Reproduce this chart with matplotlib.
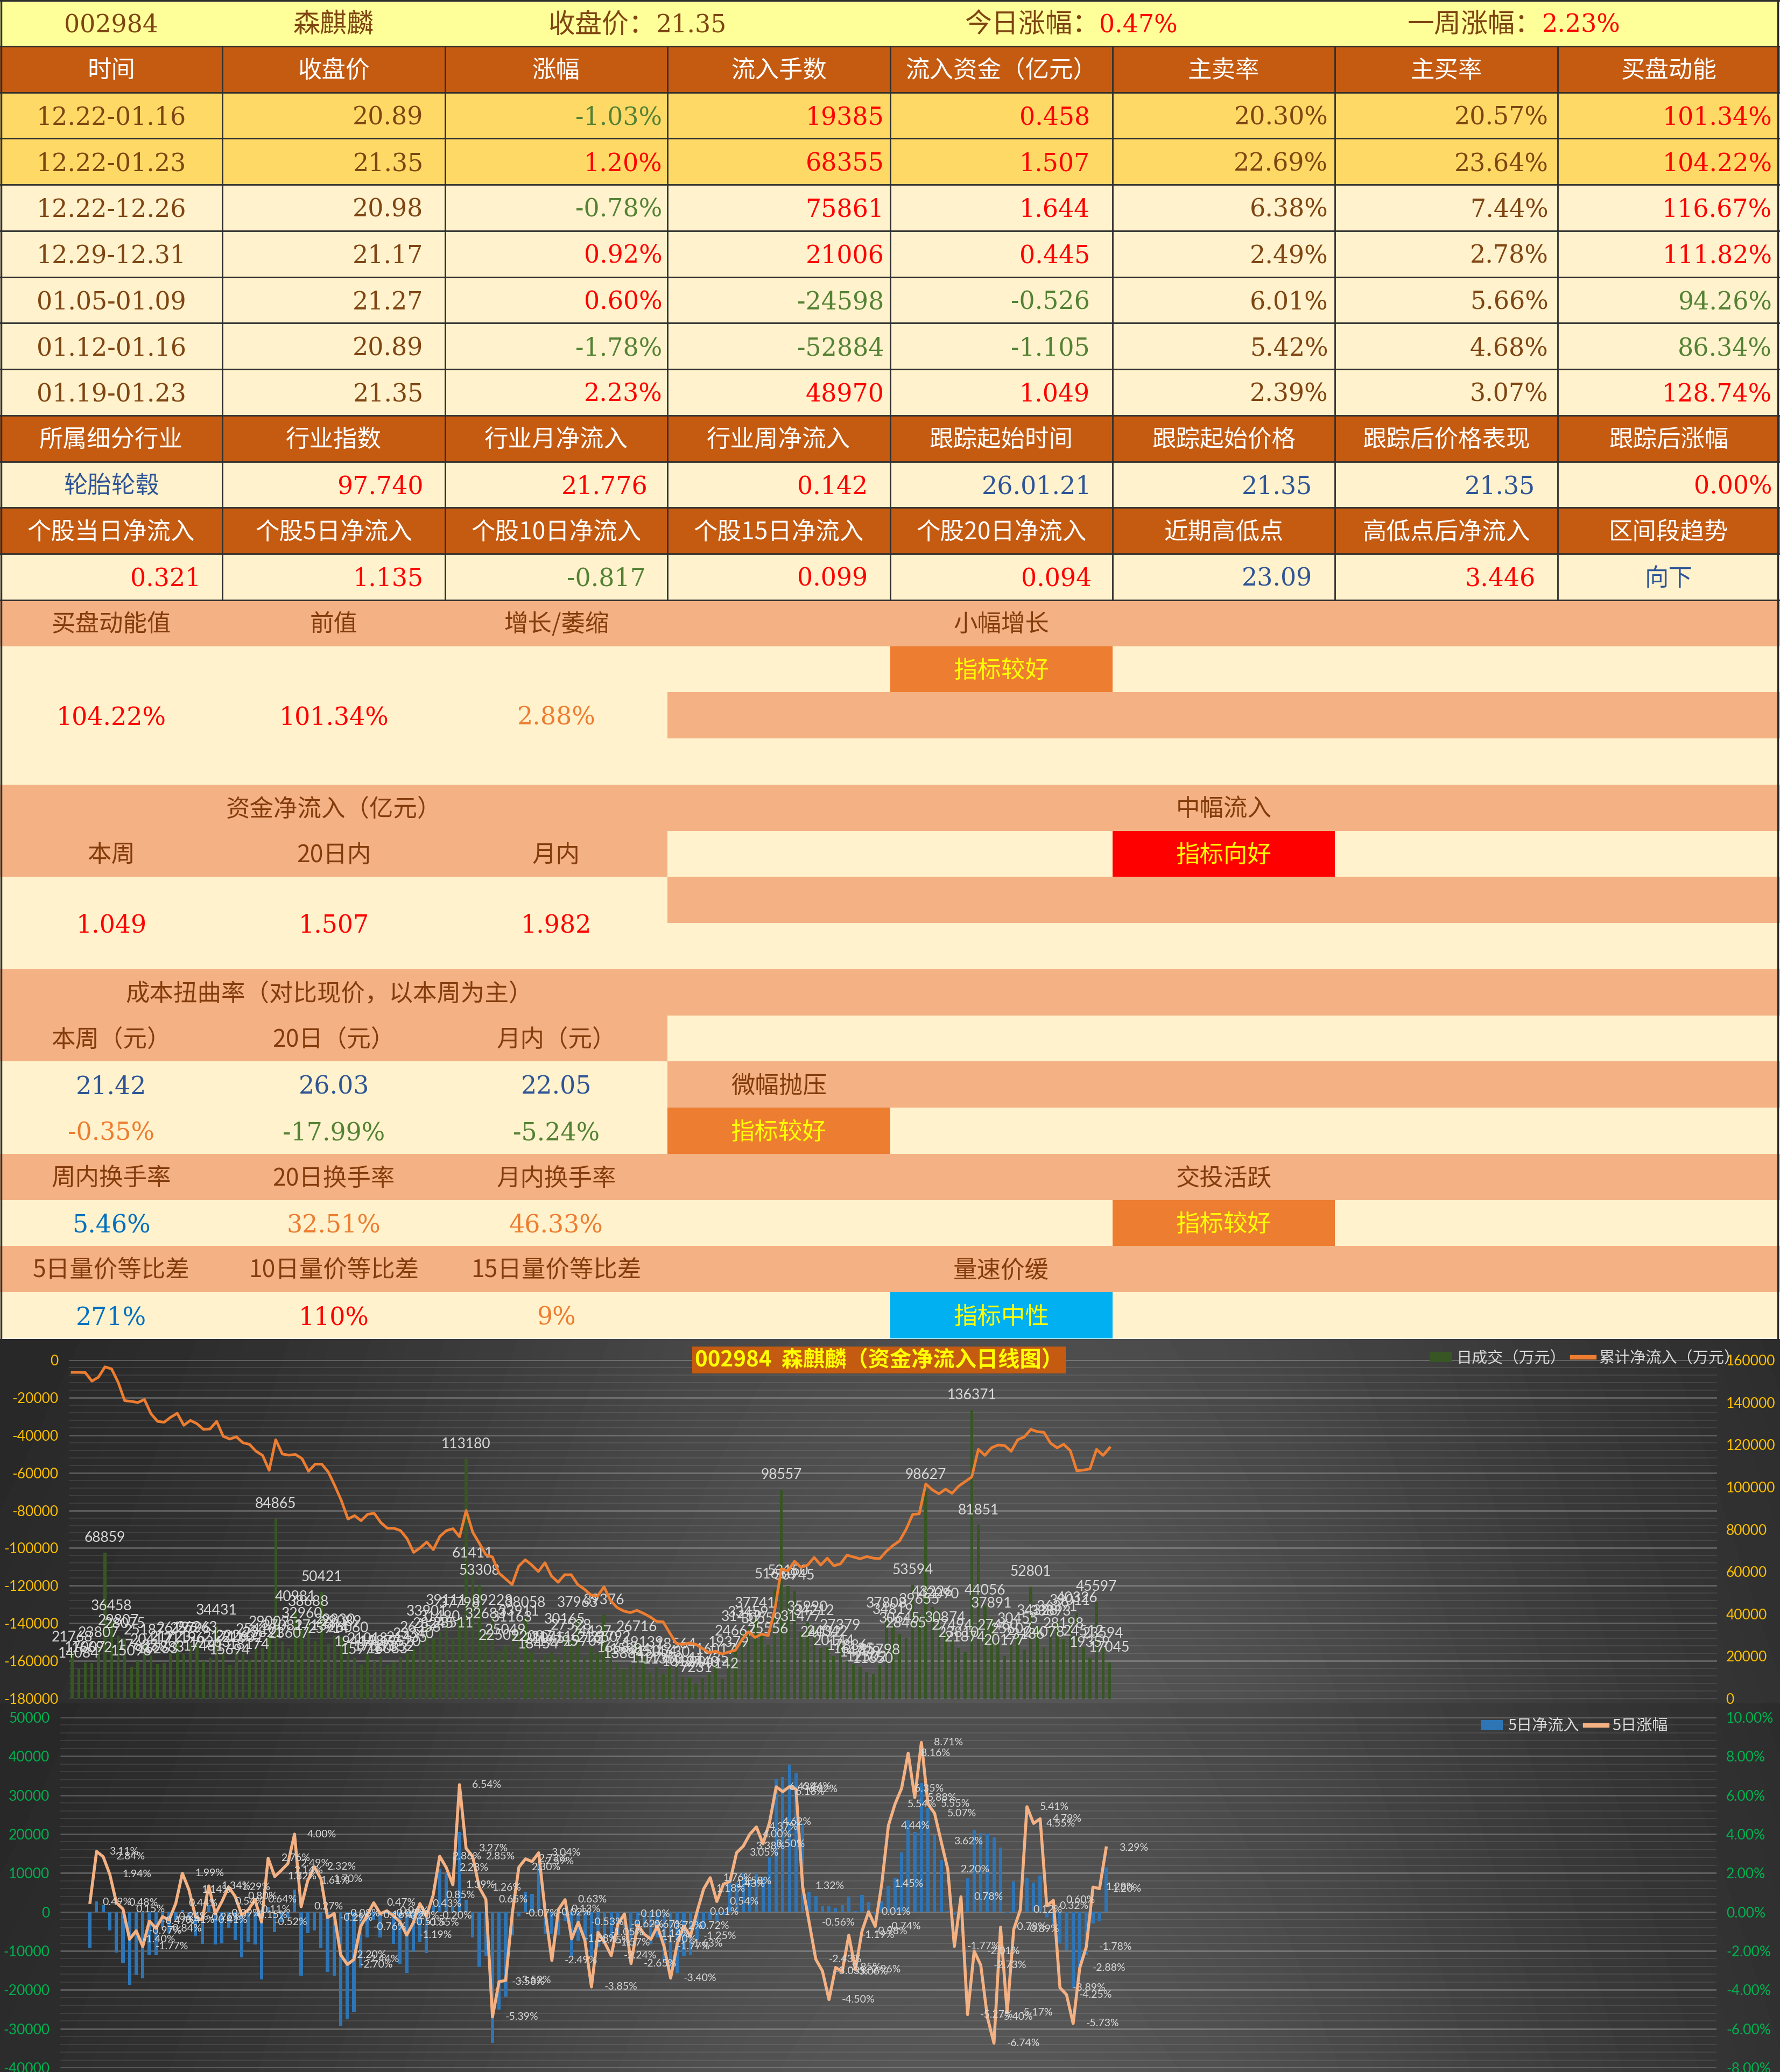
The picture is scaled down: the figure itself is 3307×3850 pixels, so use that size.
import numpy as np
import matplotlib
matplotlib.use("Agg")
import matplotlib.pyplot as plt
from matplotlib.patches import Rectangle, Patch
from matplotlib.lines import Line2D

# ======================= DATA =======================
stock_code = "002984"
stock_name = "森麒麟"
close_price = "21.35"
today_change = "0.47%"
week_change = "2.23%"

header1 = ["时间", "收盘价", "涨幅", "流入手数", "流入资金（亿元）", "主卖率", "主买率", "买盘动能"]
periods = ["12.22-01.16", "12.22-01.23", "12.22-12.26", "12.29-12.31", "01.05-01.09", "01.12-01.16", "01.19-01.23"]
close_prices = ["20.89", "21.35", "20.98", "21.17", "21.27", "20.89", "21.35"]
changes = ["-1.03%", "1.20%", "-0.78%", "0.92%", "0.60%", "-1.78%", "2.23%"]
inflow_lots = ["19385", "68355", "75861", "21006", "-24598", "-52884", "48970"]
inflow_funds = ["0.458", "1.507", "1.644", "0.445", "-0.526", "-1.105", "1.049"]
sell_rates = ["20.30%", "22.69%", "6.38%", "2.49%", "6.01%", "5.42%", "2.39%"]
buy_rates = ["20.57%", "23.64%", "7.44%", "2.78%", "5.66%", "4.68%", "3.07%"]
buy_power = ["101.34%", "104.22%", "116.67%", "111.82%", "94.26%", "86.34%", "128.74%"]

header2 = ["所属细分行业", "行业指数", "行业月净流入", "行业周净流入", "跟踪起始时间", "跟踪起始价格", "跟踪后价格表现", "跟踪后涨幅"]
industry_row = ["轮胎轮毂", "97.740", "21.776", "0.142", "26.01.21", "21.35", "21.35", "0.00%"]
header3 = ["个股当日净流入", "个股5日净流入", "个股10日净流入", "个股15日净流入", "个股20日净流入", "近期高低点", "高低点后净流入", "区间段趋势"]
stock_flow_row = ["0.321", "1.135", "-0.817", "0.099", "0.094", "23.09", "3.446", "向下"]

bp_labels = ["买盘动能值", "前值", "增长/萎缩"]
bp_values = ["104.22%", "101.34%", "2.88%"]
bp_status, bp_signal = "小幅增长", "指标较好"
flow_title = "资金净流入（亿元）"
flow_labels = ["本周", "20日内", "月内"]
flow_values = ["1.049", "1.507", "1.982"]
flow_status, flow_signal = "中幅流入", "指标向好"
cost_title = "成本扭曲率（对比现价，以本周为主）"
cost_labels = ["本周（元）", "20日（元）", "月内（元）"]
cost_prices = ["21.42", "26.03", "22.05"]
cost_devs = ["-0.35%", "-17.99%", "-5.24%"]
cost_status, cost_signal = "微幅抛压", "指标较好"
turn_labels = ["周内换手率", "20日换手率", "月内换手率"]
turn_values = ["5.46%", "32.51%", "46.33%"]
turn_status, turn_signal = "交投活跃", "指标较好"
qp_labels = ["5日量价等比差", "10日量价等比差", "15日量价等比差"]
qp_values = ["271%", "110%", "9%"]
qp_status, qp_signal = "量速价缓", "指标中性"

chart_title = "（资金净流入日线图）"
legend_top = ["日成交（万元）", "累计净流入（万元）"]
legend_bottom = ["5日净流入", "5日涨幅"]

daily_volume = [
    21768, 14084, 17007, 16692, 23807, 68859, 36458, 29807, 28075, 15096,
    17685, 25187, 20417, 16263, 16883, 21723, 26196, 21196, 25796, 26263,
    17481, 19263, 34431, 21711, 15694, 22262, 21602, 18174, 25410, 23821,
    29002, 84865, 27081, 23607, 40981, 32960, 38688, 27134, 50421, 25914,
    29830, 29089, 26060, 19414, 15971, 21018, 17563, 19877, 16083, 17352,
    19520, 21435, 23340, 26358, 33901, 28245, 31490, 39111, 28511, 37798,
    113180, 61411, 53308, 32683, 39228, 22509, 25049, 31163, 33911, 38058,
    22097, 18454, 21045, 21711, 19795, 30165, 27528, 37963, 19704, 24427,
    21650, 39376, 21792, 16683, 13884, 15884, 26716, 19139, 11976, 15054,
    11350, 14630, 18564, 10124, 9890, 7231, 9740, 11735, 16017, 9142,
    19379, 24667, 31459, 33459, 37741, 30559, 25556, 51630, 98557, 53150,
    50945, 31477, 35990, 34212, 24032, 24342, 20144, 27379, 17836, 16185,
    14779, 12502, 11650, 15798, 37808, 34819, 30645, 28465, 53594, 39655,
    98627, 43226, 42090, 30874, 27494, 23810, 21874, 136371, 81851, 44056,
    37891, 27460, 20177, 25607, 30455, 23186, 52801, 34328, 24078, 33893,
    36391, 28198, 39011, 40326, 24512, 19359, 45597, 23594, 17045]

cum_net_inflow = [
    -6580, -6580, -6700, -11230, -9150, -3650, -4750, -11840, -21620, -22000,
    -22600, -21010, -28590, -32630, -33120, -30430, -28350, -34710, -32140, -33850,
    -36910, -36660, -32630, -40580, -42040, -40820, -44000, -44860, -48520, -50720,
    -58670, -42410, -49990, -50600, -50230, -52430, -59160, -55370, -55370, -59530,
    -66860, -74810, -84590, -82760, -85450, -82020, -81530, -86430, -89480, -89480,
    -90700, -94980, -102320, -99870, -96810, -100850, -93760, -90700, -89720, -94000,
    -80060, -91560, -97430, -103540, -104760, -113320, -116380, -119430, -109650, -106230,
    -109040, -112470, -107820, -114910, -118210, -114180, -114180, -119430, -121880, -124940,
    -125550, -120660, -127990, -131660, -133490, -134350, -133130, -134720, -136550, -139000,
    -139240, -145110, -150730, -151220, -150490, -151220, -153420, -155630, -154890, -156360,
    -155260, -154280, -148780, -144500, -147560, -145720, -146580, -132880, -111120, -112100,
    -107080, -110270, -109040, -105010, -109040, -105370, -109410, -108430, -103780, -104760,
    -105740, -104520, -105370, -105620, -101710, -98650, -96200, -90090, -82140, -81780,
    -65880, -69060, -71140, -68690, -70890, -67100, -64660, -62210, -47540, -50720,
    -46690, -45220, -45460, -48520, -42410, -40940, -36910, -38130, -38490, -44240,
    -46690, -44850, -48150, -58910, -58550, -57930, -47540, -50720, -46690]

net_inflow_5d = [
    -9260, 2740, 1700, -4810, -10470, -13090, -18690, -16250, -16990, -11080,
    -11080, -4000, -5500, -2000, 500, -1500, -6200, -8200, 1800, -8300,
    -8000, -4200, -7300, -11700, -7700, -8300, -17300, 1400, -5100, -2500,
    -1500, 5800, -16300, -5500, -4800, -9300, -15400, -16300, -29200, -27600,
    -25600, -14300, -6500, -2000, -6500, -500, -8200, -13300, -15700, -10200,
    -7600, -10500, 1500, 11100, 9900, 1500, 20600, 3200, -6500, -14100,
    -11400, -33600, -25100, -21700, -5900, -1200, 5200, 4600, 12400, -5600,
    -5600, -5800, -2300, -11400, -7400, -7400, -11400, -9000, -6500, -6500,
    -5600, -4100, -7100, -3500, -4100, -8400, -6500, -12600, -14100, -15700,
    -11400, -11100, -7100, -4400, -2000, -2300, -700, 8100, 7600, 9900,
    8100, 9900, 9000, 14200, 34300, 34600, 37900, 35600, 22700, 5100,
    4100, 1500, 1500, 1100, 1700, 4000, 200, 4400, 2600, -400,
    2900, 6600, 8700, 15300, 23600, 20500, 33100, 26700, 19700, 13400,
    200, -700, 200, 8700, 21000, 20300, 20100, 19200, 16600, -300,
    7800, 5700, 8600, 7500, 9300, -1400, -3500, -8000, -9900, -19600,
    -14400, -11100, -2900, -2400, 11400]

change_5d = [
    0.49, 3.11, 2.84, 1.94, 0.48, 0.15, -1.40, -0.97, -1.77, -0.47,
    -0.84, -0.24, -0.41, 0.44, 1.99, 1.14, -0.26, -0.41, 1.34, -0.09,
    0.54, 1.29, 0.80, -0.15, 0.11, 0.64, -0.52, 2.76, 1.82, 2.14,
    2.49, 4.00, 0.27, 1.61, 2.32, 1.70, -0.29, -0.08, -2.20, -2.70,
    -2.44, -0.76, -0.16, 0.47, -0.09, 0.06, -0.20, -0.51, -1.19, -0.55,
    0.43, -0.20, 0.85, 2.86, 2.28, 1.39, 6.54, 3.27, 2.85, 1.26,
    0.65, -5.39, -3.58, -3.52, -0.07, 2.30, 2.73, 2.59, 3.04, -0.02,
    -2.49, 0.13, 0.63, -1.38, -0.53, -1.45, -3.85, -1.05, -1.57, -2.24,
    -0.62, -0.10, -2.65, -0.67, -1.14, -1.40, -0.72, -1.77, -3.40, -1.63,
    -0.72, -1.25, 0.01, 1.18, 1.76, 0.54, 1.43, 1.58, 3.05, 3.38,
    4.00, 4.37, 3.50, 4.62, 6.43, 6.18, 6.44, 6.32, 1.32, -0.56,
    -2.43, -3.03, -4.50, -2.85, -3.06, -1.19, -2.96, -0.98, 0.01, -0.74,
    1.45, 4.44, 5.54, 6.35, 8.16, 5.88, 8.71, 5.55, 5.07, 3.62,
    2.20, -1.77, 0.78, -5.27, -2.01, -2.73, -5.40, -6.74, -0.78, -5.17,
    -0.89, 0.12, 5.41, 4.55, 4.79, 0.32, 0.60, -3.89, -4.25, -5.73,
    -2.88, -1.78, 1.28, 1.20, 3.29]

vol_ticks = list(range(0, 160001, 20000))
cum_ticks = list(range(-180000, 1, 20000))
net5_ticks = list(range(-40000, 50001, 10000))
chg5_ticks = list(range(-8, 11, 2))

# ======================= STYLE =======================
CJK = ["Noto Sans CJK SC", "DejaVu Sans"]
NUM = ["DejaVu Serif", "Noto Sans CJK SC"]
CHART = ["Lato", "Noto Sans CJK SC", "DejaVu Sans"]
plt.rcParams["font.family"] = CHART

BROWN = "#7F4512"
RED = "#FF0000"
GREEN = "#548235"
BLUE = "#2F5597"
LBLUE = "#0070C0"
ORANGE = "#ED7D31"
YELLOW = "#FFFF00"
HDR = "#C55A11"
GOLD = "#FFD966"
CREAM = "#FFF2CC"
TITLEBG = "#FFFF99"
SALMON = "#F4B183"
SKY = "#00B0F0"
BORDER = "#2E2E2E"

W, H = 3307, 3850
NROWS = 29
TABLE_H = 2487
RH = TABLE_H / NROWS
CW = W / 8
NUM_SIZE = 33
CJK_SIZE = 32

fig = plt.figure(figsize=(W / 100, H / 100), dpi=100)
fig.patch.set_facecolor("white")
tax = fig.add_axes([0, 0, 1, 1])
tax.set_xlim(0, W)
tax.set_ylim(H, 0)
tax.axis("off")
renderer = fig.canvas.get_renderer()


def fill(r, c, color, n=1):
    tax.add_patch(Rectangle((c * CW, r * RH), CW * n, RH, facecolor=color,
                            edgecolor="none", zorder=1))


def put(x, y, s, color, size, fam, ha="center", weight="normal", k=0.35):
    px = size * 100 / 72
    return tax.text(x, y + k * px, s, color=color, fontsize=size, family=fam,
                    ha=ha, va="baseline", zorder=6, fontweight=weight)


def num(x, y, s, color, ha="center"):
    return put(x, y, s, color, NUM_SIZE, NUM, ha=ha, k=0.37)


def rc(r):
    return (r + 0.5) * RH


def sign_color(s):
    return GREEN if s.strip().startswith("-") else RED


# ---------------- top table ----------------
for c in range(8):
    fill(0, c, TITLEBG)
num(CW * 0.5, rc(0), stock_code, BROWN)
put(CW * 1.5, rc(0), stock_name, BROWN, 36, CJK)
for x0, lab, val, vcol in [(1019, "收盘价：", close_price, BROWN),
                           (1792, "今日涨幅：", today_change, RED),
                           (2615, "一周涨幅：", week_change, RED)]:
    t = put(x0, rc(0), lab, BROWN, 36, CJK, ha="left")
    bb = t.get_window_extent(renderer=renderer)
    num(bb.x1, rc(0), val, vcol, ha="left")

for r, hdr in [(1, header1), (9, header2), (11, header3)]:
    for c in range(8):
        fill(r, c, HDR)
        put(CW * (c + 0.5), rc(r), hdr[c], "white", CJK_SIZE, CJK)

pads_main = [0, 40, 10, 11, 42, 13, 17, 15]
for k in range(7):
    r = 2 + k
    bg = GOLD if k < 2 else CREAM
    for c in range(8):
        fill(r, c, bg)
    vals = [periods[k], close_prices[k], changes[k], inflow_lots[k], inflow_funds[k],
            sell_rates[k], buy_rates[k], buy_power[k]]
    bpv = float(buy_power[k].rstrip("%"))
    cols = [BROWN, BROWN, sign_color(changes[k]), sign_color(inflow_lots[k]),
            sign_color(inflow_funds[k]), BROWN, BROWN, RED if bpv >= 100 else GREEN]
    num(CW * 0.5, rc(r), vals[0], cols[0])
    for c in range(1, 8):
        num(CW * (c + 1) - pads_main[c], rc(r), vals[c], cols[c], ha="right")

for c in range(8):
    fill(10, c, CREAM)
    fill(12, c, CREAM)
pads_ind = [0, 40, 37, 41, 39, 42, 41, 15]
ind_cols = [BLUE, RED, RED, RED, BLUE, BLUE, BLUE, RED]
put(CW * 0.5, rc(10), industry_row[0], ind_cols[0], CJK_SIZE, CJK)
for c in range(1, 8):
    num(CW * (c + 1) - pads_ind[c], rc(10), industry_row[c], ind_cols[c], ha="right")
pads_flow = [40, 40, 40, 41, 39, 42, 41, 0]
flow_cols = [sign_color(v) for v in stock_flow_row[:5]] + [BLUE, RED, BLUE]
for c in range(7):
    num(CW * (c + 1) - pads_flow[c], rc(12), stock_flow_row[c], flow_cols[c], ha="right")
put(CW * 7.5, rc(12), stock_flow_row[7], flow_cols[7], CJK_SIZE, CJK)

# borders of top table
tax.plot([0, W], [1, 1], color=BORDER, lw=2.5, zorder=4)
for r in range(1, 14):
    tax.plot([0, W], [r * RH, r * RH], color=BORDER, lw=2, zorder=4)
for c in range(1, 8):
    tax.plot([c * CW, c * CW], [RH, 13 * RH], color=BORDER, lw=2, zorder=4)
tax.plot([1.5, 1.5], [0, TABLE_H], color=BORDER, lw=2.5, zorder=4)
tax.plot([W - 4, W - 4], [0, TABLE_H], color=BORDER, lw=2.5, zorder=4)

# ---------------- lower panel ----------------
S, C_, O, R_, B_ = SALMON, CREAM, ORANGE, RED, SKY
layout = [
    [S] * 8,
    [C_, C_, C_, C_, O, C_, C_, C_],
    [C_, C_, C_, S, S, S, S, S],
    [C_] * 8,
    [S] * 8,
    [S, S, S, C_, C_, R_, C_, C_],
    [C_, C_, C_, S, S, S, S, S],
    [C_] * 8,
    [S] * 8,
    [S, S, S, C_, C_, C_, C_, C_],
    [C_, C_, C_, S, S, S, S, S],
    [C_, C_, C_, O, C_, C_, C_, C_],
    [S] * 8,
    [C_, C_, C_, C_, C_, O, C_, C_],
    [S] * 8,
    [C_, C_, C_, C_, B_, C_, C_, C_],
]
for k, row in enumerate(layout):
    for c, col in enumerate(row):
        fill(13 + k, c, col)


def cx(c):
    return CW * (c + 0.5)

LBROWN = "#843C0C"
# 买盘动能
for c in range(3):
    put(cx(c), rc(13), bp_labels[c], LBROWN, CJK_SIZE, CJK)
put(cx(4), rc(13), bp_status, LBROWN, CJK_SIZE, CJK)
put(cx(4), rc(14), bp_signal, YELLOW, CJK_SIZE, CJK)
bp_cols = [RED, RED, ORANGE]
for c in range(3):
    num(cx(c), rc(15), bp_values[c], bp_cols[c])
# 资金净流入
put(cx(1), rc(17), flow_title, LBROWN, CJK_SIZE, CJK)
put(cx(5), rc(17), flow_status, LBROWN, CJK_SIZE, CJK)
for c in range(3):
    put(cx(c), rc(18), flow_labels[c], LBROWN, CJK_SIZE, CJK)
    num(cx(c), 20 * RH, flow_values[c], RED)
put(cx(5), rc(18), flow_signal, YELLOW, CJK_SIZE, CJK)
# 成本扭曲率
put(cx(1) - 8, rc(21), cost_title, LBROWN, CJK_SIZE, CJK)
cost_dev_cols = [ORANGE, GREEN, GREEN]
for c in range(3):
    put(cx(c), rc(22), cost_labels[c], LBROWN, CJK_SIZE, CJK)
    num(cx(c), rc(23), cost_prices[c], BLUE)
    num(cx(c), rc(24), cost_devs[c], cost_dev_cols[c])
put(cx(3), rc(23), cost_status, LBROWN, CJK_SIZE, CJK)
put(cx(3), rc(24), cost_signal, YELLOW, CJK_SIZE, CJK)
# 换手率
turn_cols = [LBLUE, ORANGE, ORANGE]
for c in range(3):
    put(cx(c), rc(25), turn_labels[c], LBROWN, CJK_SIZE, CJK)
    num(cx(c), rc(26), turn_values[c], turn_cols[c])
put(cx(5), rc(25), turn_status, LBROWN, CJK_SIZE, CJK)
put(cx(5), rc(26), turn_signal, YELLOW, CJK_SIZE, CJK)
# 量价等比差
qp_cols = [LBLUE, RED, ORANGE]
for c in range(3):
    put(cx(c), rc(27), qp_labels[c], LBROWN, CJK_SIZE, CJK)
    num(cx(c), rc(28), qp_values[c], qp_cols[c])
put(cx(4), rc(27), qp_status, LBROWN, CJK_SIZE, CJK)
put(cx(4), rc(28), qp_signal, YELLOW, CJK_SIZE, CJK)

# ---------------- chart backgrounds ----------------
def gradient(nr=80, nc=700):
    x = np.linspace(0, 1, nc)[None, :]
    y = np.linspace(0, 1, nr)[:, None]
    v = 0.15 + 0.19 * np.exp(-((x - 0.55) / 0.38) ** 2)
    return v * (0.90 + 0.10 * y)

top0, split, bot1 = TABLE_H + 1, 3165, H
tax.imshow(gradient(), cmap="gray", vmin=0, vmax=1, extent=[0, W, split, top0],
           aspect="auto", interpolation="bilinear", zorder=0.5)
tax.imshow(gradient(), cmap="gray", vmin=0, vmax=1, extent=[0, W, bot1, split],
           aspect="auto", interpolation="bilinear", zorder=0.5)
tax.set_xlim(0, W)
tax.set_ylim(H, 0)


def grid(ax):
    for k in range(46):
        f = k / 45
        major = (k % 5 == 0)
        ax.plot([0, 1], [f, f], transform=ax.transAxes,
                color=(1, 1, 1, 0.22 if major else 0.10),
                lw=2.2 if major else 1.3, zorder=0.6, solid_capstyle="butt")


def clean(ax, nslots):
    ax.set_xlim(-0.5, nslots - 0.5)
    ax.patch.set_visible(False)
    for s in ax.spines.values():
        s.set_visible(False)
    ax.set_xticks([])

NSLOTS = 251
days = np.arange(len(daily_volume))
days5 = np.arange(len(daily_volume) - len(net_inflow_5d), len(daily_volume))

# ---------------- top chart ----------------
axb = fig.add_axes([128 / W, 1 - 3156 / H, (3190 - 128) / W, (3156 - 2527) / H])
axl = axb.twinx()
for a in (axb, axl):
    clean(a, NSLOTS)
axb.set_ylim(0, 160000)
axl.set_ylim(-180000, 0)
axb.yaxis.tick_right()
axl.yaxis.tick_left()
axb.set_yticks(vol_ticks)
axb.set_yticklabels([str(v) for v in vol_ticks])
axl.set_yticks(cum_ticks)
axl.set_yticklabels([str(v) for v in cum_ticks])
axb.tick_params(axis="y", length=0, pad=12, labelcolor="#FFC000", labelsize=19,
                labelright=True, labelleft=False)
axl.tick_params(axis="y", length=0, pad=14, labelcolor="#FFC000", labelsize=19,
                labelleft=True, labelright=False)
grid(axb)
axb.bar(days, daily_volume, width=0.45, color="#375623", zorder=2)
for xi, v in zip(days, daily_volume):
    axb.annotate(str(v), (xi, v), xytext=(0, 11), textcoords="offset points",
                 ha="center", va="bottom", fontsize=19, color="#D9D9D9", zorder=4)
axl.plot(days, cum_net_inflow, color="#ED7D31", lw=3.6, zorder=3,
         solid_joinstyle="round")

fig.text(1633 / W, 1 - 2527 / H, f"{stock_code}  {stock_name}{chart_title}",
         ha="center", va="center", color=YELLOW, fontsize=29, family=CJK,
         fontweight="bold",
         bbox=dict(boxstyle="square,pad=0.12", facecolor=HDR, edgecolor="none"))
fig.legend([Patch(facecolor="#375623"), Line2D([0], [0], color="#ED7D31", lw=6)],
           legend_top, loc="center left", bbox_to_anchor=(2630 / W, 1 - 2524 / H),
           ncol=2, frameon=False, labelcolor="#D9D9D9", handlelength=1.4,
           handleheight=0.6, handletextpad=0.3, columnspacing=0.4,
           prop=dict(family=CJK, size=21))

# ---------------- bottom chart ----------------
bb_ = fig.add_axes([112 / W, 1 - 3842 / H, (3189 - 112) / W, (3842 - 3191) / H])
bl = bb_.twinx()
for a in (bb_, bl):
    clean(a, NSLOTS)
bb_.set_ylim(-40000, 50000)
bl.set_ylim(-8, 10)
bb_.set_yticks(net5_ticks)
bb_.set_yticklabels([str(v) for v in net5_ticks])
bl.set_yticks(chg5_ticks)
bl.set_yticklabels([f"{v:.2f}%" for v in chg5_ticks])
bb_.tick_params(axis="y", length=0, pad=14, labelcolor="#00B050", labelsize=19)
bl.tick_params(axis="y", length=0, pad=13, labelcolor="#00B050", labelsize=19)
grid(bb_)
bb_.bar(days5, net_inflow_5d, width=0.5, color="#2E75B6", zorder=2)
bl.plot(days5, change_5d, color="#F4B183", lw=4.0, zorder=3, solid_joinstyle="round")
for xi, v in zip(days5, change_5d):
    bl.annotate(f"{v:.2f}%", (xi, v), xytext=(17, 0), textcoords="offset points",
                ha="left", va="center", fontsize=14, color="#D9D9D9", zorder=4)
fig.legend([Patch(facecolor="#2E75B6"), Line2D([0], [0], color="#F4B183", lw=6)],
           legend_bottom, loc="center left", bbox_to_anchor=(2725 / W, 1 - 3208 / H),
           ncol=2, frameon=False, labelcolor="#D9D9D9", handlelength=1.4,
           handleheight=0.6, handletextpad=0.3, columnspacing=0.4,
           prop=dict(family=CJK, size=21))

fig.savefig("out.png", dpi=100)
